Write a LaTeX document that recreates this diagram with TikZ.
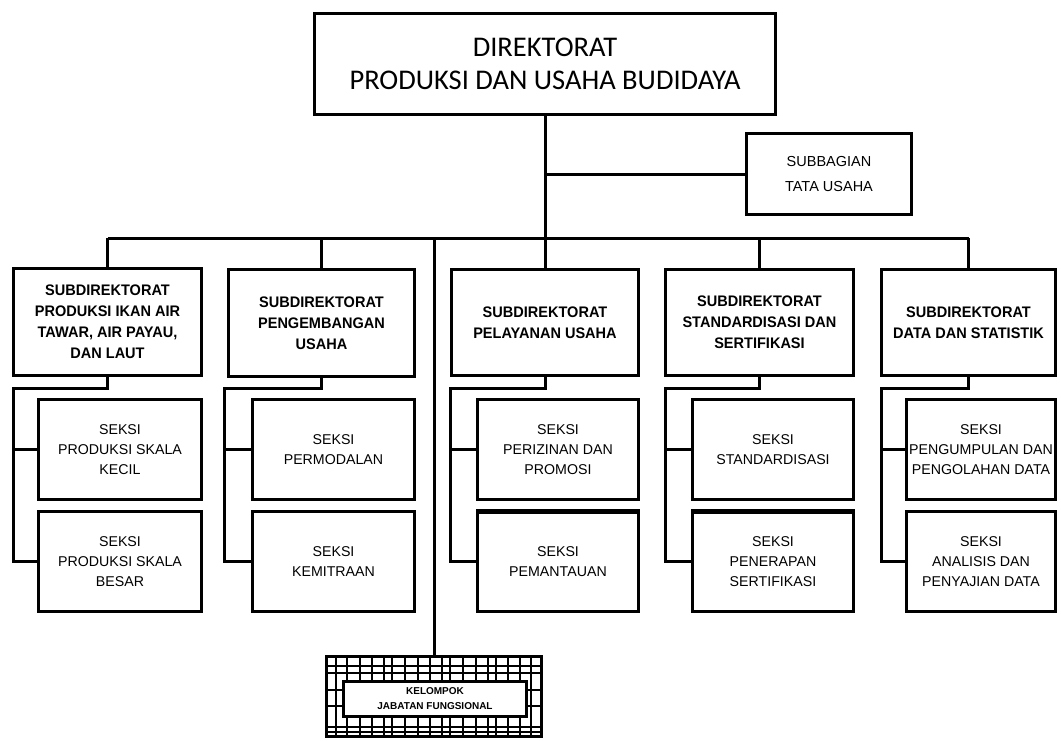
\documentclass[tikz,border=0pt]{standalone}
\usepackage{fontspec}
\setmainfont{Liberation Sans}
\newfontfamily\titlefont{Carlito}
\newfontfamily\boldnarrow[FakeStretch=0.95]{Liberation Sans Bold}
\begin{document}
\begin{tikzpicture}[x=1pt,y=-1pt,
  box/.style={draw, line width=3pt, inner sep=0pt, align=center, fill=white},
  conn/.style={line width=3pt},
  thin/.style={line width=1.1pt},
  subtxt/.style={font=\boldnarrow\fontsize{15.3}{21}\selectfont},
  seksitxt/.style={font=\fontsize{14.2}{20}\selectfont},
]
\useasboundingbox (0,0) rectangle (1061,740);

% Top
\node[box, minimum width=461pt, minimum height=101pt, font=\titlefont\fontsize{28.5}{33}\selectfont] (top) at (545,64) {DIREKTORAT\\PRODUKSI DAN USAHA BUDIDAYA};
\node[box, minimum width=165pt, minimum height=81pt, font=\fontsize{14.5}{25}\selectfont] (sub) at (829,174) {SUBBAGIAN\\TATA USAHA};

% Subdirektorat
\node[box, subtxt, minimum width=188pt, minimum height=107pt] (S1) at (107.5,322) {SUBDIREKTORAT\\PRODUKSI IKAN AIR\\TAWAR, AIR PAYAU,\\DAN LAUT};
\node[box, subtxt, minimum width=186pt, minimum height=107pt] (S2) at (321.5,323) {SUBDIREKTORAT\\PENGEMBANGAN\\USAHA};
\node[box, subtxt, minimum width=187pt, minimum height=106pt] (S3) at (545,322.5) {SUBDIREKTORAT\\PELAYANAN USAHA};
\node[box, subtxt, minimum width=188pt, minimum height=106pt] (S4) at (759.5,322.5) {SUBDIREKTORAT\\STANDARDISASI DAN\\SERTIFIKASI};
\node[box, subtxt, minimum width=174pt, minimum height=106pt] (S5) at (968.5,322.5) {SUBDIREKTORAT\\DATA DAN STATISTIK};

% Seksi
\node[box, seksitxt, minimum width=163pt, minimum height=100pt] (A1) at (120,449.5) {SEKSI\\PRODUKSI SKALA\\KECIL};
\node[box, seksitxt, minimum width=163pt, minimum height=100pt] (B1) at (120,561.5) {SEKSI\\PRODUKSI SKALA\\BESAR};
\node[box, seksitxt, minimum width=162pt, minimum height=100pt] (A2) at (333.5,449.5) {SEKSI\\PERMODALAN};
\node[box, seksitxt, minimum width=162pt, minimum height=100pt] (B2) at (333.5,561.5) {SEKSI\\KEMITRAAN};
\node[box, seksitxt, minimum width=161pt, minimum height=100pt] (A3) at (558,449.5) {SEKSI\\PERIZINAN DAN\\PROMOSI};
\node[box, seksitxt, minimum width=161pt, minimum height=100pt] (B3) at (558,561.5) {SEKSI\\PEMANTAUAN};
\node[box, seksitxt, minimum width=161pt, minimum height=100pt] (A4) at (773,449.5) {SEKSI\\STANDARDISASI};
\node[box, seksitxt, minimum width=161pt, minimum height=100pt] (B4) at (773,561.5) {SEKSI\\PENERAPAN\\SERTIFIKASI};
\node[box, seksitxt, minimum width=149pt, minimum height=100pt] (A5) at (981,449.5) {SEKSI\\PENGUMPULAN DAN\\PENGOLAHAN DATA};
\node[box, seksitxt, minimum width=149pt, minimum height=100pt] (B5) at (981,561.5) {SEKSI\\ANALISIS DAN\\PENYAJIAN DATA};
\draw[line width=5pt] ([yshift=-1pt]B3.north west) -- ([yshift=-1pt]B3.north east);
\draw[line width=5pt] ([yshift=-1pt]B4.north west) -- ([yshift=-1pt]B4.north east);

% Kelompok
\node[draw, line width=3pt, minimum width=215pt, minimum height=80pt, inner sep=0pt] (kel) at (434,696.5) {};
\begin{scope}
  \clip (kel.south west) rectangle (kel.north east);
  \foreach \x in {336,347,360,372,384,392,405,418,430,442,450,463,476,488,496,508,520,531}
    \draw[thin] (\x,655) -- (\x,738);
  \foreach \y in {666,673,690,706,727,732}
    \draw[thin] (325,\y) -- (543,\y);
\end{scope}
\node[box, minimum width=183pt, minimum height=35pt, font=\bfseries\fontsize{10}{15}\selectfont] (kin) at (435,699) {KELOMPOK\\JABATAN FUNGSIONAL};

% Connectors
\coordinate (busL) at (107.5,238);
\coordinate (busR) at (968.5,238);
\draw[conn] (busL) -- (busR);
\draw[conn] (top.south) -- (S3.north);
\draw[conn] (sub.west) -- (sub.west -| top.south);
\foreach \n in {S1,S2,S4,S5}
  \draw[conn] (\n.north) -- (\n.north |- busL);
\draw[conn] (kel.north) -- (kel.north |- busL);

\coordinate (j1) at (13,388);
\coordinate (j2) at (224,388);
\coordinate (j3) at (450,388);
\coordinate (j4) at (665,388);
\coordinate (j5) at (881,388);
\foreach \i in {1,...,5}{
  \draw[conn] (S\i.south) |- (j\i) |- (A\i.west);
  \draw[conn] (j\i) |- (B\i.west);
}
\end{tikzpicture}
\end{document}
